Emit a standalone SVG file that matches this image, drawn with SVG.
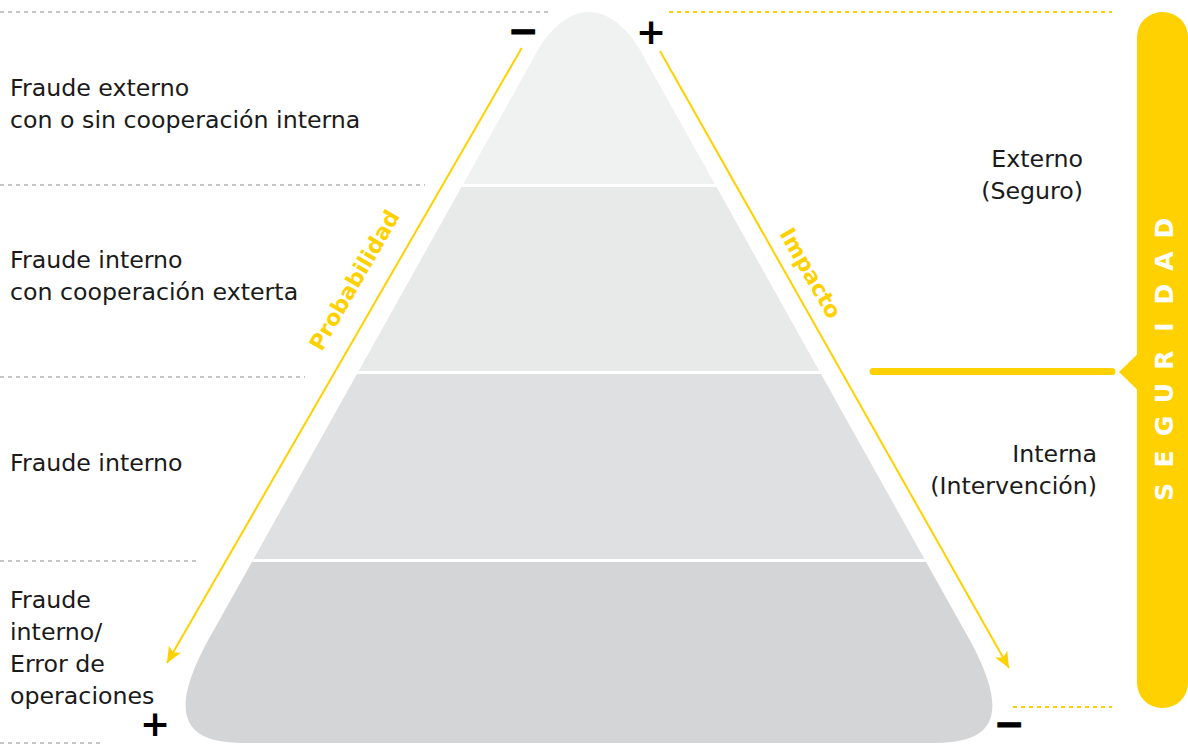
<svg xmlns="http://www.w3.org/2000/svg" width="1188" height="745" viewBox="0 0 1188 745">
<style>
.lbl{font-family:"DejaVu Sans",sans-serif;font-size:23.7px;fill:#1a1a1a}
.ax{font-family:"DejaVu Sans",sans-serif;font-weight:bold;font-size:22px;fill:#ffd100}
.sgn{font-family:"DejaVu Sans",sans-serif;font-weight:bold;font-size:36px;fill:#000}
.mn{stroke:#000;stroke-width:1.2}
.gd{stroke:#b4b4b4;stroke-width:1.5;stroke-dasharray:4 4;fill:none}
.yd{stroke:#ffd100;stroke-width:2;stroke-dasharray:4 4;fill:none}
.arr{stroke:#ffd100;stroke-width:2;fill:none;marker-end:url(#ah)}
</style>
<defs>
<clipPath id="pyr">
<path d="M589,12 C610,12 628,30 639,48 L650,68 L963,628 C1006,702 1006,743 935,743 L243,743 C172,743 172,702 215,628 L528,68 L539,48 C550,30 568,12 589,12 Z"/>
</clipPath>
<marker id="ah" viewBox="-16 -8 18 16" refX="0" refY="0" markerWidth="18" markerHeight="16" markerUnits="userSpaceOnUse" orient="auto">
<path d="M0,0 L-16,-7 L-12,0 L-16,7 Z" fill="#ffd100"/>
</marker>
</defs>
<rect width="1188" height="745" fill="#fff"/>
<g id="guides">
<line class="gd" x1="0" y1="12" x2="551" y2="12"/>
<line class="gd" x1="0" y1="185" x2="425" y2="185"/>
<line class="gd" x1="0" y1="377" x2="305" y2="377"/>
<line class="gd" x1="0" y1="561" x2="199" y2="561"/>
<line class="gd" x1="0" y1="743" x2="101" y2="743"/>
<line class="yd" x1="669" y1="12" x2="1112" y2="12"/>
<line class="yd" x1="1013" y1="707" x2="1112" y2="707"/>
</g>
<g id="pyramid" clip-path="url(#pyr)">
<rect x="150" y="0" width="880" height="186" fill="#f0f1f1"/>
<rect x="150" y="186" width="880" height="187" fill="#e8e9e9"/>
<rect x="150" y="373" width="880" height="188" fill="#dfe0e1"/>
<rect x="150" y="561" width="880" height="184" fill="#d4d5d7"/>
<g stroke="#fff" stroke-width="3">
<line x1="150" y1="185.5" x2="1030" y2="185.5"/>
<line x1="150" y1="372.5" x2="1030" y2="372.5"/>
<line x1="150" y1="560.5" x2="1030" y2="560.5"/>
</g>
</g>
<g id="connectors">
<line class="arr" x1="521.7" y1="48" x2="167" y2="663"/>
<line class="arr" x1="660" y1="51" x2="1009" y2="668"/>
</g>
<g id="axis-labels">
<text class="ax" text-anchor="middle" transform="translate(361,284) rotate(-60)">Probabilidad</text>
<text class="ax" text-anchor="middle" transform="translate(804,277) rotate(60)">Impacto</text>
</g>
<g id="signs">
<text class="sgn mn" text-anchor="middle" x="523" y="42.8">−</text>
<text class="sgn" text-anchor="middle" x="651" y="43.8">+</text>
<text class="sgn" text-anchor="middle" x="155" y="736">+</text>
<text class="sgn mn" text-anchor="middle" x="1009" y="736">−</text>
</g>
<g id="left-labels">
<text class="lbl" x="10" y="96">Fraude externo</text>
<text class="lbl" x="10" y="128">con o sin cooperación interna</text>
<text class="lbl" x="10" y="268">Fraude interno</text>
<text class="lbl" x="10" y="300">con cooperación exterta</text>
<text class="lbl" x="10" y="471">Fraude interno</text>
<text class="lbl" x="10" y="608">Fraude</text>
<text class="lbl" x="10" y="640">interno/</text>
<text class="lbl" x="10" y="672">Error de</text>
<text class="lbl" x="10" y="704">operaciones</text>
</g>
<g id="right-labels">
<text class="lbl" text-anchor="end" x="1083" y="167">Externo</text>
<text class="lbl" text-anchor="end" x="1083" y="199">(Seguro)</text>
<text class="lbl" text-anchor="end" x="1097" y="462">Interna</text>
<text class="lbl" text-anchor="end" x="1097" y="494">(Intervención)</text>
</g>
<g id="seguridad">
<rect x="1137" y="12" width="51" height="696" rx="25" fill="#ffd100"/>
<path d="M1138,353.5 L1119,372 L1138,390.5 Z" fill="#ffd100"/>
<line x1="873" y1="371.5" x2="1112" y2="371.5" stroke="#ffd100" stroke-width="7" stroke-linecap="round"/>
<text font-family="DejaVu Sans, sans-serif" font-weight="bold" font-size="25" fill="#fff" text-anchor="middle" transform="translate(1173,0) rotate(-90)"><tspan x="-492">S</tspan><tspan x="-459">E</tspan><tspan x="-426">G</tspan><tspan x="-393">U</tspan><tspan x="-360">R</tspan><tspan x="-327">I</tspan><tspan x="-294">D</tspan><tspan x="-261">A</tspan><tspan x="-228">D</tspan></text>
</g>
</svg>
